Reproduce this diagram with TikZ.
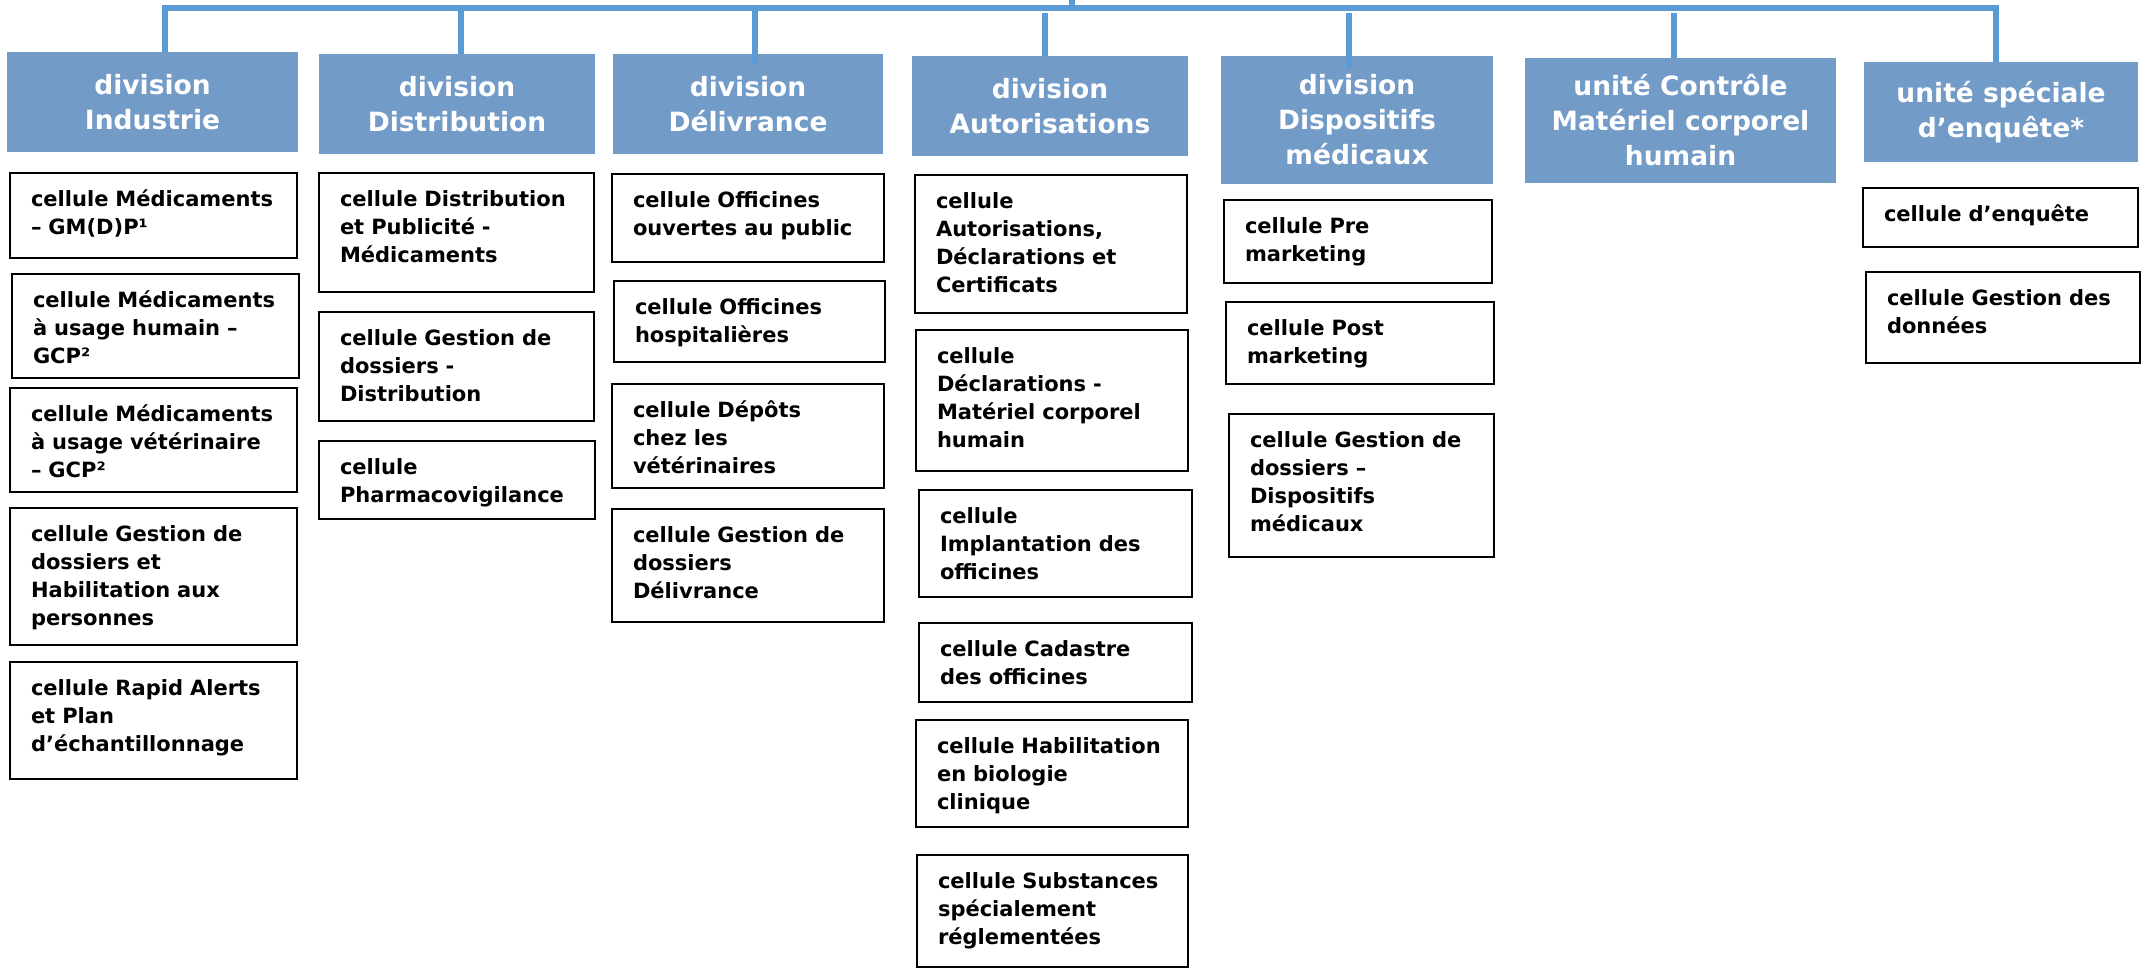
\documentclass[tikz,border=0pt]{standalone}
\usepackage{fontspec}
\setmainfont{DejaVu Sans}
\usetikzlibrary{calc}
\definecolor{connblue}{RGB}{91,155,213}
\definecolor{hdrblue}{RGB}{115,155,199}
\tikzset{
  hdr/.style={fill=hdrblue, text=white, anchor=north west, inner sep=0pt, outer sep=0pt,
    align=center, font=\fontsize{26.5}{35}\selectfont\bfseries},
  cbox/.style={draw=black, line width=2.5pt, anchor=north west, inner sep=0pt, outer sep=0pt},
  ctext/.style={anchor=base west, inner sep=0pt, outer sep=0pt, align=left, text width=262pt,
    font=\fontsize{21}{28}\selectfont\bfseries},
  conn/.style={draw=connblue, line width=6pt, line join=miter}
}
\newcommand\mkhdr[6]{\node[hdr, minimum width={(#4)-(#2)}, minimum height={(#5)-(#3)}] (#1) at (#2,#3) {#6};}
\newcommand\mkcell[6]{\node[cbox, minimum width={(#4)-(#2)}, minimum height={(#5)-(#3)}] (#1) at (#2,#3) {};
  \node[ctext] (#1t) at ($(#1.north west)+(21,33)$) {#6};}
\begin{document}
\begin{tikzpicture}[x=1pt,y=-1pt]
\useasboundingbox (0,0) rectangle (2143,969);
% headers
\mkhdr{d1}{7}{52}{298}{152}{division\\Industrie}
\mkhdr{d2}{319}{54}{595}{154}{division\\Distribution}
\mkhdr{d3}{613}{54}{883}{154}{division\\Délivrance}
\mkhdr{d4}{912}{56}{1188}{156}{division\\Autorisations}
\mkhdr{d5}{1221}{56}{1493}{184}{division\\Dispositifs\\médicaux}
\mkhdr{d6}{1525}{58}{1836}{183}{unité Contrôle\\Matériel corporel\\humain}
\mkhdr{d7}{1864}{62}{2138}{162}{unité spéciale\\d’enquête*}
% connectors
\coordinate (top) at (1072,0);
\coordinate (t1) at (165,8);
\coordinate (t2) at (461,8);
\coordinate (t3) at (755,8);
\coordinate (t4) at (1045,8);
\coordinate (t5) at (1349,8);
\coordinate (t6) at (1674,8);
\coordinate (t7) at (1996,8);
\draw[conn] (t1 |- d1.north) -- (t1) -- (t7) -- (t7 |- d7.north);
\draw[conn] (top) -- (top |- t1);
\draw[conn] (t2) -- (t2 |- d2.north);
\draw[conn] (t3) -- ($(t3 |- d3.north)+(0,10)$);
\draw[conn] ($(t4)+(0,5)$) -- (t4 |- d4.north);
\draw[conn] ($(t5)+(0,5)$) -- ($(t5 |- d5.north)+(0,12)$);
\draw[conn] ($(t6)+(0,5)$) -- (t6 |- d6.north);
% Industrie
\mkcell{a1}{10}{173}{297}{258}{cellule Médicaments\\– GM(D)P¹}
\mkcell{a2}{12}{274}{299}{378}{cellule Médicaments\\à usage humain –\\GCP²}
\mkcell{a3}{10}{388}{297}{492}{cellule Médicaments\\à usage vétérinaire\\– GCP²}
\mkcell{a4}{10}{508}{297}{645}{cellule Gestion de\\dossiers et\\Habilitation aux\\personnes}
\mkcell{a5}{10}{662}{297}{779}{cellule Rapid Alerts\\et Plan\\d’échantillonnage}
% Distribution
\mkcell{b1}{319}{173}{594}{292}{cellule Distribution\\et Publicité -\\Médicaments}
\mkcell{b2}{319}{312}{594}{421}{cellule Gestion de\\dossiers -\\Distribution}
\mkcell{b3}{319}{441}{595}{519}{cellule\\Pharmacovigilance}
% Délivrance
\mkcell{c1}{612}{174}{884}{262}{cellule Officines\\ouvertes au public}
\mkcell{c2}{614}{281}{885}{362}{cellule Officines\\hospitalières}
\mkcell{c3}{612}{384}{884}{488}{cellule Dépôts\\chez les\\vétérinaires}
\mkcell{c4}{612}{509}{884}{622}{cellule Gestion de\\dossiers\\Délivrance}
% Autorisations
\mkcell{e1}{915}{175}{1187}{313}{cellule\\Autorisations,\\Déclarations et\\Certificats}
\mkcell{e2}{916}{330}{1188}{471}{cellule\\Déclarations -\\Matériel corporel\\humain}
\mkcell{e3}{919}{490}{1192}{597}{cellule\\Implantation des\\officines}
\mkcell{e4}{919}{623}{1192}{702}{cellule Cadastre\\des officines}
\mkcell{e5}{916}{720}{1188}{827}{cellule Habilitation\\en biologie\\clinique}
\mkcell{e6}{917}{855}{1188}{967}{cellule Substances\\spécialement\\réglementées}
% Dispositifs médicaux
\mkcell{f1}{1224}{200}{1492}{283}{cellule Pre\\marketing}
\mkcell{f2}{1226}{302}{1494}{384}{cellule Post\\marketing}
\mkcell{f3}{1229}{414}{1494}{557}{cellule Gestion de\\dossiers –\\Dispositifs\\médicaux}
% unité spéciale
\mkcell{g1}{1863}{188}{2138}{247}{cellule d’enquête}
\mkcell{g2}{1866}{272}{2140}{363}{cellule Gestion des\\données}
\end{tikzpicture}
\end{document}
